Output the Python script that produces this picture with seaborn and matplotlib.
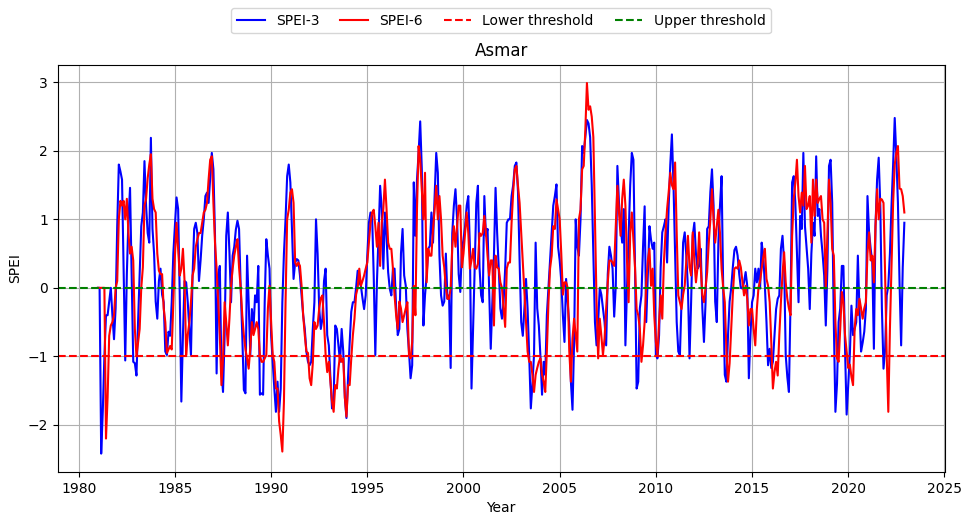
import pandas as pd
import matplotlib
matplotlib.use("Agg")
import matplotlib.pyplot as plt
from matplotlib.ticker import MultipleLocator
import seaborn as sns

# station and thresholds
station = "Asmar"
start_month = "1981-01"
lower_threshold = -1.0
upper_threshold = 0.0

# monthly SPEI-3 values, one row per year (1981 .. 2022)
spei3 = [
    0, 0, -2.42, -1.8, -1.0, -0.4, -0.4, -0.2, 0.0, -0.4, -0.75, -0.3,
    0.9, 1.8, 1.7, 1.58, 0.3, -1.06, 0.2, 1.0, 1.46, 0.2, -1.08, -1.1,
    -1.28, -0.5, 0.2, 0.9, 1.1, 1.85, 1.2, 0.8, 0.66, 2.19, 0.86, 0.5,
    -0.2, -0.45, 0.1, 0.28, -0.1, -0.21, -0.93, -0.98, -0.64, -0.7, -0.21, 0.5,
    0.9, 1.32, 1.15, -0.1, -1.66, -0.69, 0.1, 0.08, -0.21, -0.6, -0.98, 0.18,
    0.86, 0.95, 0.8, 0.1, 0.4, 0.76, 1.0, 1.34, 1.39, 1.24, 1.6, 1.97,
    1.73, 0.76, -1.25, 0.18, 0.32, -1.2, -1.52, -0.69, 0.76, 1.1, 0.52, -0.21,
    0.47, 0.6, 0.85, 0.98, 0.86, 0.03, -0.69, -1.49, -1.54, 0.47, -0.21, -0.98,
    -0.31, -0.6, -0.11, -0.21, 0.32, -1.56, -1.54, -1.56, -0.21, 0.71, 0.47, 0.28,
    -0.69, -1.08, -1.47, -1.81, -1.37, -1.81, -1.47, -0.21, 0.5, 1.0, 1.63, 1.8,
    1.54, 0.86, 0.13, 0.37, 0.42, 0.4, 0.18, -0.11, -0.4, -0.6, -0.93, -1.08,
    -1.13, -1.08, -0.6, -0.21, 1.0, 0.5, -0.3, -0.6, -0.45, 0.1, 0.28, -0.69,
    -0.84, -1.32, -1.76, -1.66, -0.55, -0.6, -0.84, -1.08, -0.6, -0.93, -1.6, -1.9,
    -1.3, -0.8, -0.35, -0.21, -0.21, 0.0, 0.25, 0.08, 0.03, -0.15, -0.31, -0.11,
    0.47, 0.95, 1.1, 1.05, 0.18, -0.98, 0.08, 0.76, 1.49, 1.15, 0.28, 1.1,
    0.76, 0.23, -0.01, -0.11, 0.28, 0.28, -0.3, -0.69, -0.6, 0.5, 0.86, 0.18,
    0.03, -0.6, -0.93, -1.32, -1.13, 1.54, 0.76, 1.58, 1.97, 2.43, 1.73, -0.55,
    -0.11, 0.18, 0.57, 0.61, 1.1, 0.66, 1.34, 1.97, 1.68, 0.47, -0.11, -0.26,
    -0.2, 0.5, -0.16, -0.11, -1.17, 0.8, 1.2, 1.44, 1.0, 0.2, -0.06, 0.57,
    0.7, 0.9, 1.2, 1.34, 0.6, -1.47, -0.6, 0.3, 1.24, 1.49, 0.3, -0.11,
    -0.21, 1.34, 0.76, 0.86, 0.0, -0.89, -0.2, 0.47, 1.46, 0.8, 0.28, -0.3,
    -0.45, -0.21, 0.28, 0.95, 1.0, 1.0, 1.34, 1.5, 1.78, 1.83, 1.4, 0.4,
    -0.5, -0.7, -0.3, 0.13, -0.31, -1.0, -1.76, -1.4, -0.98, 0.66, -0.3, -0.55,
    -1.0, -1.56, -1.08, -1.27, -0.4, 0.0, 0.4, 0.8, 1.2, 1.34, 1.51, 0.6,
    0.4, 0.1, -0.4, -0.79, 0.13, -0.2, -0.55, -1.37, -1.78, -0.79, 1.0, 0.6,
    0.47, 1.0, 2.07, 1.97, 2.2, 2.45, 2.4, 2.2, 1.5, 0.5, -0.5, -0.84,
    -0.5, 0.0, -0.1, -0.3, -0.5, -0.84, 0.2, 0.6, 0.47, 0.28, -0.42, 0.03,
    1.78, 1.24, 0.9, 0.66, 1.15, -0.84, 0.0, 0.76, 1.5, 1.97, 1.87, 0.3,
    -1.47, -1.37, -0.3, -0.11, 0.6, 1.19, -0.5, 0.2, 0.9, 0.7, 0.57, 0.66,
    -0.98, -1.03, -0.69, 0.3, 0.81, 0.9, 1.0, 0.37, 1.2, 1.8, 2.24, 1.5,
    0.5, -0.5, -0.93, -0.98, -0.2, 0.66, 0.81, 0.47, 0.0, -1.03, -0.2, 0.76,
    0.95, 0.5, 0.28, 0.32, 0.57, -0.3, -0.79, -0.21, 0.86, 0.9, 1.4, 1.73,
    1.2, -0.2, -0.5, 0.66, 1.2, 1.63, 0.0, -1.27, -1.37, -0.7, -0.2, 0.0,
    0.3, 0.55, 0.6, 0.47, 0.2, 0.0, -0.01, 0.08, 0.23, 0.03, -1.32, -0.69,
    -0.21, -0.11, 0.28, 0.08, 0.28, -0.01, 0.66, 0.47, 0.03, -0.5, -1.13, -0.89,
    -1.17, -1.08, -0.69, -0.31, -0.16, -0.11, 0.57, 0.76, 0.37, -0.98, -1.3, -1.52,
    -0.21, 1.54, 1.63, 1.24, 0.5, -0.21, 1.05, 0.86, 1.97, 0.9, 0.6, 0.28,
    -0.31, 0.5, 0.95, 0.76, 1.92, 1.05, 1.15, 0.76, 0.5, 0.18, -0.55, 0.28,
    1.78, 1.87, 1.24, -0.5, -1.81, -1.4, -0.5, -0.3, 0.32, 0.32, -0.89, -1.85,
    -1.42, -0.98, -0.26, -0.69, -0.6, -0.5, 0.47, -0.31, -0.93, -0.8, -0.64, -0.31,
    1.34, 0.81, 0.57, 0.37, -0.89, 0.9, 1.58, 1.9, 1.2, -0.3, -1.18, -0.9,
    -0.11, 0.03, 0.5, 1.2, 1.8, 2.48, 1.92, 1.24, 0.08, -0.84, 0.3, 0.95,
]

# monthly SPEI-6 values, one row per year (1981 .. 2022)
spei6 = [
    0, 0, 0, 0, 0, -2.2, -1.6, -0.7, -0.55, -0.5, -0.4, 0.0,
    0.1, 1.0, 1.27, 1.2, 1.27, 1.0, 1.3, 0.8, 0.5, 0.6, 0.4, -0.6,
    -1.0, -0.8, -0.6, 0.0, 0.3, 1.2, 1.3, 1.6, 1.8, 1.95, 1.3, 1.15,
    1.1, 0.5, 0.25, 0.2, 0.2, -0.3, -0.5, -0.95, -0.9, -0.85, -0.9, -0.21,
    0.47, 0.95, 0.57, 0.18, 0.28, 0.57, 0.1, -0.98, -0.69, -0.5, -0.21, 0.18,
    0.28, 0.6, 0.71, 0.8, 0.8, 0.95, 1.1, 1.14, 1.24, 1.58, 1.87, 1.92,
    1.24, 0.66, 0.28, -0.21, -0.69, -1.42, -1.03, -0.21, -0.5, -0.84, -0.45, 0.03,
    0.28, 0.47, 0.6, 0.71, 0.3, 0.0, -0.4, -0.69, -0.9, -1.03, -1.18, -0.88,
    -0.5, -0.69, -0.6, -0.5, -0.6, -0.98, -1.08, -1.08, -1.03, -0.98, -0.3, 0.03,
    -0.5, -0.98, -1.08, -1.47, -1.47, -1.95, -2.15, -2.39, -1.66, -0.21, 1.0, 1.14,
    1.39, 1.44, 1.24, 0.37, 0.32, 0.37, 0.32, 0.03, -0.4, -0.69, -0.93, -0.95,
    -1.32, -1.42, -1.1, -0.5, -0.6, -0.55, -0.3, -0.15, -0.11, -0.5, -0.98, -1.23,
    -1.08, -1.37, -1.66, -1.81, -1.42, -1.47, -1.18, -0.98, -1.08, -1.03, -1.6, -1.88,
    -1.42, -1.42, -1.03, -0.69, -0.45, -0.1, 0.0, 0.28, 0.03, 0.1, 0.18, 0.28,
    0.37, 0.66, 0.95, 1.1, 1.14, 0.9, 0.6, 0.95, 0.32, 0.95, 1.15, 1.58,
    1.15, 0.66, 0.57, 0.57, 0.28, -0.11, -0.4, -0.6, -0.2, -0.3, -0.5, -0.4,
    -0.3, -0.21, -0.98, -1.03, -0.79, 0.03, -0.4, 1.15, 2.07, 1.87, 1.44, 1.0,
    1.68, 0.08, 0.57, 0.47, 0.47, 0.86, 1.15, 1.49, 1.0, 1.34, 1.0, 0.47,
    0.3, 0.0, -0.16, -0.16, 0.0, 0.6, 0.9, 0.6, 0.9, 1.2, 1.2, 0.3,
    0.5, 0.8, 1.1, 0.8, 0.28, 0.4, 0.57, 0.3, 0.28, 0.35, 0.8, 0.76,
    0.8, 1.05, 0.8, 0.47, 0.18, 0.4, 0.4, -0.55, 0.47, 0.3, 0.28, 0.08,
    0.0, -0.3, -0.57, 0.28, 0.37, 0.37, 0.95, 1.4, 1.73, 1.78, 1.49, 1.24,
    0.8, 0.35, -0.1, -0.5, -0.93, -1.08, -1.08, -1.27, -1.52, -1.27, -1.17, -1.08,
    -1.03, -1.27, -1.37, -1.52, -0.93, -0.21, 0.28, 0.47, 0.9, 0.86, 1.29, 1.14,
    1.0, 0.5, -0.1, 0.08, 0.08, 0.0, -0.93, -1.37, -0.74, -0.45, -0.69, -0.93,
    1.0, 1.14, 1.73, 1.78, 2.3, 2.99, 2.6, 2.65, 2.5, 2.2, 1.0, -0.2,
    -1.03, -0.45, -0.7, -0.98, -0.74, -0.3, 0.08, 0.4, 0.4, 0.37, 0.32, 0.9,
    1.49, 1.1, 0.76, 1.3, 1.58, 1.2, 0.4, -0.21, 0.8, 1.1, 0.7, 0.3,
    -0.31, -0.4, -0.6, -1.08, -0.84, -0.5, 0.08, 0.4, 0.57, 0.03, 0.28, -0.4,
    -0.79, -0.98, -0.5, -0.11, -0.45, 0.37, 0.8, 1.15, 1.4, 1.68, 1.5, 1.44,
    1.83, 0.8, -0.11, -0.21, -0.31, -0.1, 0.03, 0.4, 0.76, 0.3, 0.18, 0.81,
    0.4, 0.08, 0.3, 0.81, 0.3, -0.11, -0.21, 0.0, 0.23, 0.66, 1.0, 1.44,
    1.0, 0.66, 0.9, 1.14, 0.8, 0.28, 0.0, -0.21, -0.9, -1.37, -1.1, -0.6,
    -0.1, 0.28, 0.3, 0.28, 0.4, 0.3, 0.1, -0.11, 0.03, -0.16, -0.55, -0.31,
    -0.31, -0.6, -0.84, -0.31, 0.0, 0.1, 0.28, 0.45, 0.57, 0.13, 0.03, -0.21,
    -0.8, -1.47, -1.23, -1.08, -1.28, -0.69, -0.21, 0.2, 0.52, 0.08, -0.16, -0.3,
    -0.4, 0.76, 1.3, 1.53, 1.87, 1.34, 1.1, 1.39, 1.2, 1.78, 1.15, 1.2,
    1.34, 0.66, 1.58, 1.05, 1.58, 1.24, 1.3, 1.34, 1.0, 0.95, -0.01, 0.76,
    1.58, 1.24, 0.57, 0.47, -0.5, -1.03, -1.08, -0.6, -0.06, -0.21, -0.69, -0.93,
    -1.17, -1.12, -1.3, -1.42, -0.6, -0.31, -0.4, -0.16, -0.3, -0.45, -0.3, -0.21,
    0.5, 0.81, 0.4, 0.47, 0.08, 0.9, 1.44, 1.0, 1.3, 1.29, 1.24, 0.2,
    -1.0, -1.81, -0.6, 0.3, 1.24, 1.8, 1.97, 2.07, 1.45, 1.44, 1.34, 1.1,
]

# monthly dates -> decimal year
dates = pd.date_range(start_month, periods=len(spei3), freq="MS")
df = pd.DataFrame({
    "Year": dates.year + (dates.month - 1) / 12,
    "SPEI-3": spei3,
    "SPEI-6": spei6,
})

fig, ax = plt.subplots(figsize=(9.61, 5.16), dpi=100)
sns.lineplot(data=df, x="Year", y="SPEI-3", color="blue", label="SPEI-3", ax=ax)
sns.lineplot(data=df, x="Year", y="SPEI-6", color="red", label="SPEI-6", ax=ax)
ax.axhline(lower_threshold, color="red", linestyle="--", label="Lower threshold")
ax.axhline(upper_threshold, color="green", linestyle="--", label="Upper threshold")

ax.xaxis.set_major_locator(MultipleLocator(5))
ax.set_title(station)
ax.set_xlabel("Year")
ax.set_ylabel("SPEI")
ax.grid(True)
ax.legend(loc="upper center", bbox_to_anchor=(0.5, 1.155), ncol=4, columnspacing=1.5)

fig.subplots_adjust(left=0.060, right=0.983, top=0.875, bottom=0.085)
fig.savefig("out.png", dpi=100)
